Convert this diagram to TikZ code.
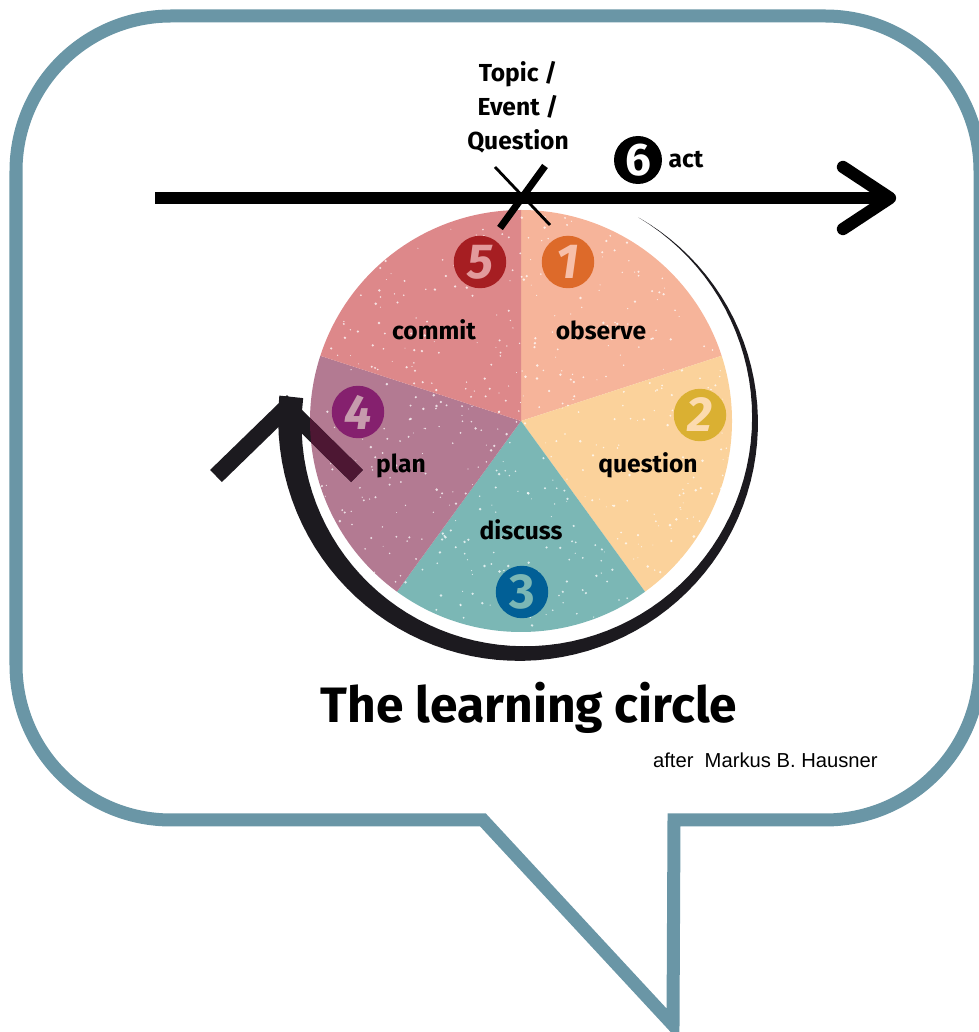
\documentclass[tikz,border=0pt]{standalone}
\usepackage{fontspec}
\setmainfont{Fira Sans}
\newfontfamily\creditfont{Liberation Sans}
\usetikzlibrary{positioning}

\definecolor{bubble}{RGB}{106,150,166}
\definecolor{obsv}{RGB}{246,180,154}
\definecolor{ques}{RGB}{251,210,155}
\definecolor{disc}{RGB}{123,183,181}
\definecolor{plancol}{RGB}{179,122,146}
\definecolor{comm}{RGB}{221,136,138}
\definecolor{numone}{RGB}{221,106,42}
\definecolor{numtwo}{RGB}{218,176,50}
\definecolor{numthree}{RGB}{1,95,150}
\definecolor{numfour}{RGB}{133,32,110}
\definecolor{numfive}{RGB}{166,30,34}
\definecolor{arrowblack}{RGB}{28,26,31}
\definecolor{arrowdark}{RGB}{77,23,51}

\begin{document}
\begin{tikzpicture}[x=0.02cm, y=0.02cm,
  every node/.style={font=\bfseries\fontsize{14}{16}\selectfont},
  numdot/.style={circle, minimum size=1.05cm, inner sep=0pt, font=\bfseries\itshape\fontsize{28}{28}\selectfont}]
  \useasboundingbox (0,0) rectangle (979,1032);
  \clip (0,0) rectangle (979,1032);

  % speech bubble
  \draw[bubble, line width=7.4pt] (674,212) -- (825,212) arc[start angle=-90, end angle=0, radius=155]
    -- (980,861) arc[start angle=0, end angle=90, radius=155]
    -- (171,1016) arc[start angle=90, end angle=180, radius=155]
    -- (16,367) arc[start angle=180, end angle=270, radius=155]
    -- (483,212) -- (673,7) -- cycle;

  % time line
  \coordinate (tl) at (155,834);
  \coordinate (tr) at (890,834);
  \draw[line width=6.8pt] (tl) -- (884,834);
  \draw[line width=7pt, line cap=round, line join=round] (843,865) -- (tr) -- (843,803);

  % the circle
  \coordinate (ctr) at (521,611);
  \fill[obsv] (ctr) -- ++(18:211) arc[start angle=18, end angle=90, radius=211] -- cycle;
  \fill[ques] (ctr) -- ++(-54:211) arc[start angle=-54, end angle=18, radius=211] -- cycle;
  \fill[disc] (ctr) -- ++(-126:211) arc[start angle=-126, end angle=-54, radius=211] -- cycle;
  \fill[plancol] (ctr) -- ++(162:211) arc[start angle=162, end angle=234, radius=211] -- cycle;
  \fill[comm] (ctr) -- ++(90:211) arc[start angle=90, end angle=162, radius=211] -- cycle;
  % worn print specks
  \begin{scope}
    \clip (ctr) circle (211);
    \pgfmathsetseed{42}
    \foreach \i in {1,...,650}
      \fill[white, opacity=0.75] ({521+211*rand}, {611+211*rand}) circle[radius={0.5+0.9*rnd}];
  \end{scope}

  \node (observe) at (601,702) {observe};
  \node (question) at (648,567) {question};
  \node (discuss) at (521,502) {discuss};
  \node (plan) at (401,566) {plan};
  \node (commit) at (434,702) {commit};

  \node[numdot, fill=numone, text=obsv!85!white] (n1) at (568,770) {1};
  \node[numdot, fill=numtwo, text=ques!80!white] (n2) at (700,617) {2};
  \node[numdot, fill=numthree, text=disc, font=\bfseries\fontsize{28}{28}\selectfont] (n3) at (522,440) {3};
  \node[numdot, fill=numfour, text=plancol!75!white] (n4) at (358,620) {4};
  \node[numdot, fill=numfive, text=comm!85!white] (n5) at (480,770) {5};

  % turning arrow
  \fill[arrowblack] plot[domain=60:-186, samples=80, variable=\t]
      ({521+(235+8*(60-\t)/246)*cos(\t)}, {611+(235+8*(60-\t)/246)*sin(\t)})
    -- plot[domain=-186:60, samples=80, variable=\t]
      ({521+(235-16*(60-\t)/246)*cos(\t)}, {611+(235-16*(60-\t)/246)*sin(\t)}) -- cycle;
  \draw[arrowblack, line width=9.6pt] (216,556) -- (287,625) -- (357,556);
  \begin{scope}
    \clip (ctr) circle (211);
    \draw[arrowdark, line width=9.6pt] (216,556) -- (287,625) -- (357,556);
  \end{scope}

  % topic mark
  \node[align=center, font=\bfseries\fontsize{14}{19.3}\selectfont] (topic) at (518,925) {Topic /\\Event /\\Question};
  \draw[line width=4pt] (500,804) -- (545,866);
  \draw[line width=1.6pt] (495,865) -- (550,807);

  \node[circle, fill=black, text=white, minimum size=0.96cm, inner sep=0pt, font=\bfseries\fontsize{26}{26}\selectfont] (six) at (638,872) {6};
  \node[right=0pt of six] (act) {act};

  \node[font=\bfseries\fontsize{28.3}{30}\selectfont] (title) at (529,324) {The learning circle};
  \node[font=\creditfont\fontsize{11.5}{12}\selectfont, inner sep=0pt, anchor=base east] (credit) at (878,264) {after\ \ Markus B. Hausner};
\end{tikzpicture}
\end{document}
